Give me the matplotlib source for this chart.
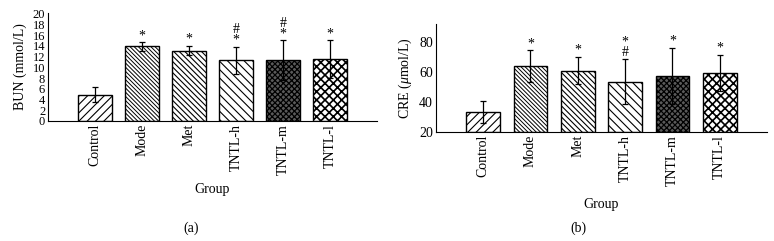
import numpy as np
import matplotlib.pyplot as plt

plt.rcParams['font.family'] = ['Liberation Serif', 'DejaVu Serif']
plt.rcParams['hatch.linewidth'] = 0.8
plt.rcParams['mathtext.fontset'] = 'custom'
plt.rcParams['mathtext.it'] = 'Liberation Serif:italic'
plt.rcParams['mathtext.rm'] = 'Liberation Serif'

groups = ["Control", "Mode", "Met", "TNTL-h", "TNTL-m", "TNTL-l"]

bun_mean = [4.9, 13.9, 13.1, 11.3, 11.3, 11.5]
bun_err = [1.4, 0.8, 0.9, 2.5, 3.7, 3.5]
bun_marks = ["", "*", "*", "#\n*", "#\n*", "*"]

cre_mean = [33.2, 64.1, 61.0, 53.4, 57.4, 59.6]
cre_err = [7.2, 10.5, 9.2, 15.0, 18.8, 11.9]
cre_marks = ["", "*", "*", "*\n#", "*", "*"]

hatches = ["////", "\\\\\\\\\\\\\\\\", "\\\\\\\\\\\\", "\\\\\\\\", "xxxxxx", "xxxx"]
faces = ["white", "white", "white", "white", "#5a5a5a", "white"]
hatch_lw = [0.8, 0.7, 0.8, 0.8, 0.9, 1.2]

fig = plt.figure(figsize=(7.74, 2.41), dpi=100)
ax1 = fig.add_axes([0.062, 0.498, 0.425, 0.45])
ax2 = fig.add_axes([0.563, 0.452, 0.428, 0.448])

x = np.arange(len(groups))


def draw(ax, mean, err, marks, ylim, yticks, ylabel, ysize):
    for i in range(len(groups)):
        with plt.rc_context({'hatch.linewidth': hatch_lw[i]}):
            b = ax.bar(x[i], mean[i] - ylim[0], bottom=ylim[0], width=0.71,
                       color=faces[i], edgecolor='black', hatch=hatches[i],
                       linewidth=1.0, zorder=2)
        for p in b.patches:
            if hasattr(p, 'set_hatch_linewidth'):
                p.set_hatch_linewidth(hatch_lw[i])
    ax.errorbar(x, mean, yerr=err, fmt='none', ecolor='black',
                elinewidth=0.9, capsize=2.5, capthick=0.9, zorder=3)
    for i, m in enumerate(marks):
        if m:
            ax.text(x[i], mean[i] + err[i], m, ha='center',
                    va='bottom', fontsize=10, linespacing=0.75)
    ax.set_xlim(-1, 6)
    ax.set_ylim(*ylim)
    ax.set_yticks(yticks)
    ax.set_xticks(x)
    ax.set_xticklabels(groups, rotation=90, fontsize=10)
    ax.tick_params(axis='both', length=0, pad=2)
    ax.tick_params(axis='y', labelsize=ysize)
    ax.spines['top'].set_visible(False)
    ax.spines['right'].set_visible(False)
    ax.set_ylabel(ylabel, fontsize=10, labelpad=4)


draw(ax1, bun_mean, bun_err, bun_marks, (0, 20.2), np.arange(0, 21, 2),
     "BUN (mmol/L)", 9)
ax1.set_xlabel("Group", fontsize=10, labelpad=6)
draw(ax2, cre_mean, cre_err, cre_marks, (20, 92), [20, 40, 60, 80],
     r"CRE ($\mu$mol/L)", 10)
ax2.set_xlabel("Group", fontsize=10, labelpad=9)

fig.text(0.247, 0.054, "(a)", ha='center', va='center', fontsize=10)
fig.text(0.747, 0.054, "(b)", ha='center', va='center', fontsize=10)

plt.savefig('out.png', dpi=100)
